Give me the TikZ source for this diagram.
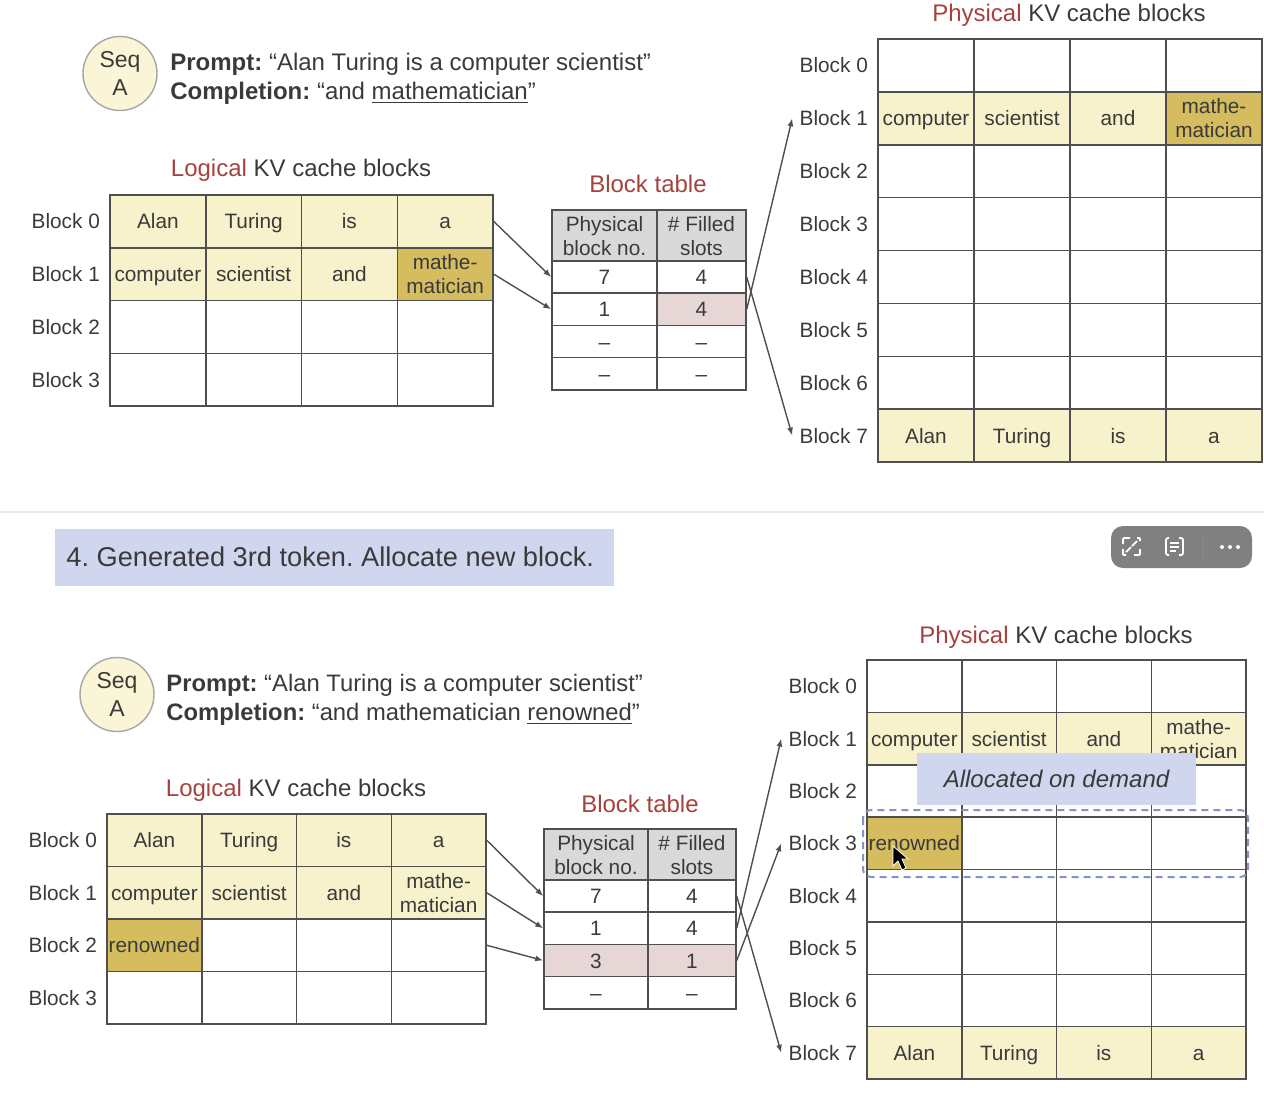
\documentclass[tikz,border=0pt]{standalone}
\usepackage{fontspec}
\setmainfont{Liberation Sans}
\usepackage{xcolor}
\usetikzlibrary{arrows.meta,positioning,calc}

\definecolor{inkgray}{HTML}{3A3A3A}
\definecolor{gridgray}{HTML}{4F4F4F}
\definecolor{tokpale}{HTML}{F8F2CC}
\definecolor{tokgold}{HTML}{D5BC5E}
\definecolor{rowpink}{HTML}{E6D6D6}
\definecolor{headgray}{HTML}{D9D9D9}
\definecolor{titlered}{HTML}{A5423E}
\definecolor{notice}{HTML}{CFD6EE}
\definecolor{dashblue}{HTML}{8492C4}

% line strut, so that every cell text sits on the same baseline
\newcommand{\cst}{\vrule height 9.75pt depth 2.25pt width 0pt\relax}
% cache grid: name, x, y, cell w, cell h, last row, filled cells
\newcommand{\kvgrid}[7]{
	\foreach \row in {0,...,#6}{
		\foreach \col in {0,...,3}
			\node[cell, minimum width={(#4)*0.5pt}, minimum height={(#5)*0.5pt}] (#1-\row-\col) at ({#2+(\col+0.5)*#4},{#3+(\row+0.5)*#5}) {};
		\node[blocklab, anchor=east, xshift=-1pt] (#1-lab-\row) at (#1-\row-0.west) {\cst Block \row};
	}
	\foreach \row/\col/\colr/\tok in {#7}
		\node[cell, fill=\colr, minimum width={(#4)*0.5pt}, minimum height={(#5)*0.5pt}] at (#1-\row-\col) {\cst\tok};
}
% block table: name, x, y, col 1 w, col 2 w, rows
\newcommand{\blocktable}[6]{
	\node[cell, fill=headgray, minimum width={(#4)*0.5pt}, minimum height=25.5pt] (#1-h-0) at ({#2+0.5*#4},{#3+25.5}) {\cst Physical\\block no.\cst};
	\node[cell, fill=headgray, minimum width={(#5)*0.5pt}, minimum height=25.5pt] (#1-h-1) at ({#2+#4+0.5*#5},{#3+25.5}) {\cst\# Filled\\slots\cst};
	\foreach \row/\cola/\colb/\vala/\valb in {#6}{
		\node[cell, fill=\cola, minimum width={(#4)*0.5pt}, minimum height=16.1pt] (#1-\row-0) at ({#2+0.5*#4},{#3+51+(\row+0.5)*32.2}) {\cst\vala};
		\node[cell, fill=\colb, minimum width={(#5)*0.5pt}, minimum height=16.1pt] (#1-\row-1) at ({#2+#4+0.5*#5},{#3+51+(\row+0.5)*32.2}) {\cst\valb};
	}
}

\begin{document}
\frenchspacing
\begin{tikzpicture}[
	x=0.5pt, y=-0.5pt,
	every node/.style={text=inkgray},
	cell/.style={draw=gridgray, line width=0.75pt, inner sep=0pt, align=center, font=\fontsize{10.4}{12}\selectfont},
	blocklab/.style={inner xsep=3.5pt, inner ysep=0pt, font=\fontsize{10.4}{12}\selectfont},
	title/.style={text height=11pt, text depth=2.4pt, font=\fontsize{12}{14}\selectfont},
	seq/.style={circle, draw=black!35, line width=0.7pt, fill=tokpale!80!white, minimum size=37pt, inner sep=0pt, align=center, font=\fontsize{11.5}{14}\selectfont},
	prompt/.style={anchor=west, inner sep=0pt, align=left, font=\fontsize{12}{14.5}\selectfont},
	arr/.style={-{Latex[length=4pt,width=3pt]}, draw=gridgray, line width=0.7pt}
	]
	\useasboundingbox (0,0) rectangle (1264,1100);

	% upper panel
	\node[seq] (sa) at (120,73.5) {Seq\\A};
	\node[prompt] (pra) at (170,79) {\textbf{Prompt:} “Alan Turing is a computer scientist”\\\textbf{Completion:} “and \underline{mathematician}”};
	\node[title] (lta) at (301,168) {\textcolor{titlered}{Logical} KV cache blocks};
	\node[title] (bta) at (648,184) {\textcolor{titlered}{Block table}};
	\node[title] (pta) at (1069,13) {\textcolor{titlered}{Physical} KV cache blocks};
	\kvgrid{la}{110}{195}{95.75}{52.75}{3}{0/0/tokpale/Alan,0/1/tokpale/Turing,0/2/tokpale/is,0/3/tokpale/a,1/0/tokpale/computer,1/1/tokpale/scientist,1/2/tokpale/and,1/3/tokgold/mathe-\\matician\cst}
	\kvgrid{pa}{878}{39}{96}{52.875}{7}{1/0/tokpale/computer,1/1/tokpale/scientist,1/2/tokpale/and,1/3/tokgold/mathe-\\matician\cst,7/0/tokpale/Alan,7/1/tokpale/Turing,7/2/tokpale/is,7/3/tokpale/a}
	\blocktable{ta}{552}{210}{105}{89}{0/white/white/7/4,1/white/rowpink/1/4,2/white/white/–/–,3/white/white/–/–}
	\draw[arr] (la-0-3.east) -- (ta-0-0.west);
	\draw[arr] (la-1-3.east) -- (ta-1-0.west);
	\draw[arr] (ta-1-1.east) -- (pa-lab-1.west);
	\draw[arr] (ta-0-1.east) -- (pa-lab-7.west);

	% divider and banner
	\draw[draw=black!8, line width=0.7pt] (0,512) -- (1264,512);
	\node[fill=notice, minimum width=279.5pt, minimum height=28.5pt, inner sep=0pt] (banner) at (334.5,557.5) {};
	\node[anchor=west, inner sep=0pt, font=\fontsize{13.6}{16}\selectfont] (bannertxt) at (66,557) {4. Generated 3rd token. Allocate new block.};

	% lower panel
	\node[seq] (sb) at (117,694.5) {Seq\\A};
	\node[prompt, font=\fontsize{11.9}{14.5}\selectfont] (prb) at (166,700) {\textbf{Prompt:} “Alan Turing is a computer scientist”\\\textbf{Completion:} “and mathematician \underline{renowned}”};
	\node[title] (ltb) at (296,788) {\textcolor{titlered}{Logical} KV cache blocks};
	\node[title] (btb) at (640,804) {\textcolor{titlered}{Block table}};
	\node[title] (ptb) at (1056,635) {\textcolor{titlered}{Physical} KV cache blocks};
	\kvgrid{lb}{107}{814}{94.75}{52.5}{3}{0/0/tokpale/Alan,0/1/tokpale/Turing,0/2/tokpale/is,0/3/tokpale/a,1/0/tokpale/computer,1/1/tokpale/scientist,1/2/tokpale/and,1/3/tokpale/mathe-\\matician\cst,2/0/tokgold/renowned}
	\kvgrid{pb}{867}{660}{94.75}{52.375}{7}{1/0/tokpale/computer,1/1/tokpale/scientist,1/2/tokpale/and,1/3/tokpale/mathe-\\matician\cst,3/0/tokgold/renowned,7/0/tokpale/Alan,7/1/tokpale/Turing,7/2/tokpale/is,7/3/tokpale/a}
	\blocktable{tb}{544}{829}{104}{88}{0/white/white/7/4,1/white/white/1/4,2/rowpink/rowpink/3/1,3/white/white/–/–}
	\draw[arr] (lb-0-3.east) -- (tb-0-0.west);
	\draw[arr] (lb-1-3.east) -- (tb-1-0.west);
	\draw[arr] (lb-2-3.east) -- (tb-2-0.west);
	\draw[arr] (tb-1-1.east) -- (pb-lab-1.west);
	\draw[arr] (tb-2-1.east) -- (pb-lab-3.west);
	\draw[arr] (tb-0-1.east) -- (pb-lab-7.west);
	\node[fill=notice, minimum width=139.5pt, minimum height=26pt, inner sep=0pt, font=\fontsize{12}{14}\itshape\selectfont] (alloc) at (1056.5,779) {Allocated on demand};
	\draw[draw=dashblue, line width=1pt, dash pattern=on 3.5pt off 2.5pt, rounded corners=4pt] (863,810) rectangle (1248,877);

	% player toolbar and mouse pointer
	\node[fill=black!50, rounded corners=6pt, minimum width=70.5pt, minimum height=21pt, inner sep=0pt] (bar) at (1181.5,547) {};
	\draw[white, line width=0.9pt, rounded corners=0.5pt] (1123,544) -- (1123,538) -- (1130,538) (1134,555) -- (1140,555) -- (1140,549) (1123,549) -- (1123,555) -- (1126,555) (1137,538) -- (1140,538) -- (1140,541);
	\draw[white, line width=0.9pt] (1126,552) -- (1131,547) (1132,546) -- (1137,541);
	\draw[white, line width=0.9pt, rounded corners=1pt] (1169,538) -- (1166,538) -- (1166,555) -- (1169,555) (1179,538) -- (1183,538) -- (1183,555) -- (1179,555);
	\draw[white, line width=0.9pt] (1170,543) -- (1179,543) (1170,547) -- (1179,547) (1170,551) -- (1176,551);
	\draw[black!46, line width=0.5pt] (1203,534) -- (1203,560);
	\foreach \dotx in {1222,1230,1238}
		\fill[white] (\dotx,547) circle (1pt);
	\draw[fill=black, draw=white, line width=0.4pt] (893,846) -- (893,866) -- (898,861) -- (902,870) -- (906,868) -- (902,859) -- (908,859) -- cycle;
\end{tikzpicture}
\end{document}
